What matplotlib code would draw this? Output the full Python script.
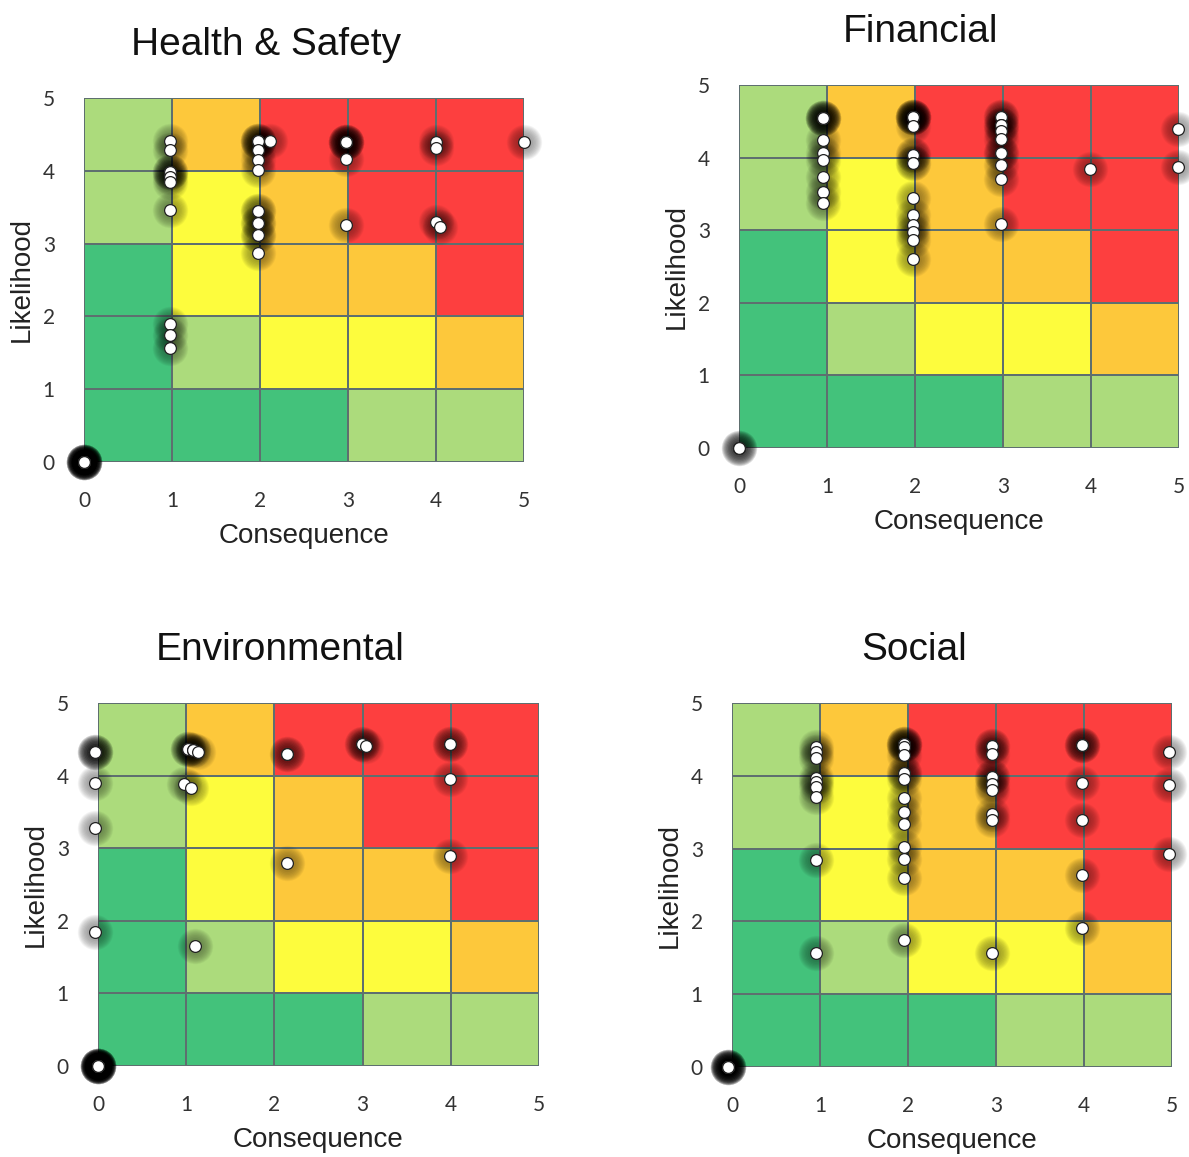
import matplotlib
matplotlib.use("Agg")
import matplotlib.pyplot as plt
from matplotlib.colors import ListedColormap
import numpy as np

# risk matrix (rows: likelihood 0-1 .. 4-5, cols: consequence 0-1 .. 4-5)
risk_levels = [
    [0, 0, 0, 1, 1],
    [0, 1, 2, 2, 3],
    [0, 2, 3, 3, 4],
    [1, 2, 3, 4, 4],
    [1, 3, 4, 4, 4],
]
level_colors = ["#43c27b", "#acdb7c", "#fdfc3d", "#fdc83b", "#fd3f3f"]
ticks = [0, 1, 2, 3, 4, 5]

titles = ["Health & Safety", "Financial", "Environmental", "Social"]

hs_x = [0] * 12 + [0.98, 0.98] + [0.98] * 5 + [0.98] + [1.98] * 4 + [2.11] \
    + [1.98] * 3 + [2.98] * 5 + [2.98] + [4.0, 4.0] + [5.0] \
    + [1.98] * 6 + [1.98] + [2.98] + [4.0, 4.05] + [0.98] * 3
hs_y = [0] * 12 + [4.41, 4.28] + [3.99, 3.99, 3.99, 3.92, 3.85] + [3.46] \
    + [4.41] * 4 + [4.41] + [4.29, 4.15, 4.01] + [4.40] * 5 + [4.16] \
    + [4.40, 4.31] + [4.40] + [3.45, 3.45, 3.28, 3.28, 3.12, 3.12] + [2.87] \
    + [3.25] + [3.30, 3.23] + [1.90, 1.74, 1.56]

fin_x = [0] * 3 + [0.96] * 5 + [0.96] * 6 + [1.98] * 7 + [1.98] * 4 \
    + [1.98] * 6 + [2.98] * 6 + [2.98] * 4 + [2.98] + [3.99] + [4.99, 4.99]
fin_y = [0] * 3 + [4.54] * 5 + [4.24, 4.06, 3.97, 3.73, 3.52, 3.37] \
    + [4.56] * 6 + [4.43] + [4.03, 4.03, 3.92, 3.92] \
    + [3.45, 3.21, 3.07, 2.98, 2.86, 2.61] \
    + [4.56, 4.56, 4.45, 4.45, 4.36, 4.26] + [4.06, 4.06, 3.90, 3.70] \
    + [3.08] + [3.84] + [4.39, 3.87]

env_x = [0] * 14 + [-0.03] * 4 + [-0.03] * 3 + [1.02] * 3 + [1.08] * 2 + [1.13] \
    + [0.98, 1.05] + [2.14] * 2 + [2.99, 2.99, 3.04] + [3.99] * 2 \
    + [3.99, 3.99] + [2.14] + [1.10]
env_y = [0] * 14 + [4.33] * 4 + [3.90, 3.28, 1.85] + [4.37] * 3 + [4.35] * 2 \
    + [4.33] + [3.88, 3.83] + [4.30] * 2 + [4.44, 4.44, 4.41] + [4.43] * 2 \
    + [3.96, 2.89] + [2.79] + [1.65]

soc_x = [-0.04] * 8 + [0.95] * 9 + [1.96] * 16 + [2.96] * 10 + [3.98] * 7 \
    + [4.97] * 3
soc_y = [0] * 8 \
    + [4.39, 4.33, 4.24, 3.97, 3.91, 3.85, 3.71, 2.85, 1.57] \
    + [4.44, 4.44, 4.44, 4.44, 4.39, 4.28, 4.04, 4.04, 3.96, 3.69, 3.50,
       3.34, 3.02, 2.86, 2.60, 1.75] \
    + [4.41, 4.41, 4.30, 3.98, 3.98, 3.89, 3.80, 3.47, 3.39, 1.57] \
    + [4.42, 4.42, 4.42, 3.90, 3.39, 2.64, 1.91] \
    + [4.33, 3.88, 2.92]

all_x = [hs_x, fin_x, env_x, soc_x]
all_y = [hs_y, fin_y, env_y, soc_y]

# axes boxes in pixels: left, right, top, bottom
W, H = 1189, 1157
boxes = [(84, 524, 98, 462), (739, 1179, 85, 448),
         (98, 539, 703, 1066), (732, 1172, 703, 1067)]

title_font = "Liberation Sans"
tick_font = "Lato"

fig = plt.figure(figsize=(W / 100, H / 100), dpi=100)
cmap = ListedColormap(level_colors)

for title, xs, ys, (l, r, t, b) in zip(titles, all_x, all_y, boxes):
    ax = fig.add_axes([l / W, 1 - b / H, (r - l) / W, (b - t) / H])
    ax.pcolormesh(ticks, ticks, np.array(risk_levels), cmap=cmap,
                  vmin=-0.5, vmax=4.5, edgecolors="#5e6f6f", linewidth=1.2)
    ax.set_xlim(0, 5)
    ax.set_ylim(0, 5)
    for s in ax.spines.values():
        s.set_visible(False)
    ax.set_xticks(ticks)
    ax.set_yticks(ticks)
    ax.tick_params(length=0, pad=21, labelsize=15, labelcolor="#333333")
    for lab in ax.get_xticklabels() + ax.get_yticklabels():
        lab.set_family(tick_font)

    # soft dark halo under the points
    for size in np.linspace(90, 650, 10):
        ax.scatter(xs, ys, s=size, color="black", alpha=0.045, linewidths=0,
                   clip_on=False, zorder=3)
    ax.scatter(xs, ys, s=72, facecolor="white", edgecolor="#222222",
               linewidths=0.9, clip_on=False, zorder=4)

    pw = r - l
    ph = b - t
    ax.text(0.5 - 38 / pw, 1 + 43 / ph, title, transform=ax.transAxes,
            ha="center", va="baseline", fontsize=28, family=title_font,
            color="#111111")
    ax.text(0.5, -81 / ph, "Consequence", transform=ax.transAxes,
            ha="center", va="baseline", fontsize=20, family=title_font,
            color="#222222")
    ax.text(-62 / pw, 0.5, "Likelihood", transform=ax.transAxes,
            ha="center", va="center", rotation=90, fontsize=20,
            family=title_font, color="#222222")

fig.savefig("out.png", dpi=100)
